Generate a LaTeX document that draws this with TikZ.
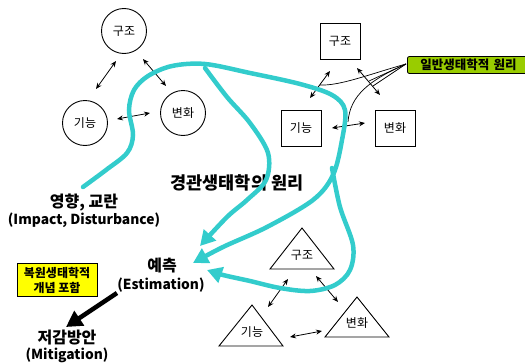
\documentclass[tikz,border=0pt]{standalone}
\usepackage{fontspec}
\setmainfont{Noto Sans CJK KR}
\usetikzlibrary{arrows.meta}
\definecolor{cy}{HTML}{33CCCC}
\definecolor{gr}{HTML}{99CC00}
\definecolor{yl}{HTML}{FFFF00}
\begin{document}
\begin{tikzpicture}[x=1pt,y=-1pt,
  circ/.style={circle,draw,line width=0.9pt,minimum size=45pt,inner sep=0pt,font=\fontsize{12}{14}\selectfont},
  sq/.style={rectangle,draw,line width=0.9pt,minimum width=40pt,minimum height=36pt,inner sep=0pt,font=\fontsize{12}{14}\selectfont},
  tritext/.style={inner sep=0pt,font=\fontsize{12}{14}\selectfont},
  trishape/.style={draw,line width=0.9pt,line join=miter},
  dbl/.style={{Stealth[length=6pt,width=5pt]}-{Stealth[length=6pt,width=5pt]},line width=0.8pt},
  bigk/.style={inner sep=0pt,font=\bfseries\fontsize{16}{18}\selectfont},
  bigl/.style={inner sep=0pt,font=\bfseries\fontsize{13.8}{16}\selectfont},
  cyl/.style={draw=cy,line width=4.5pt,line cap=round,-{Triangle[length=15pt,width=16pt]}},
  thin/.style={line width=0.7pt}]
\useasboundingbox (0,0) rectangle (525,364);
% circles
\node[circ] (c1) at (124,31) {구조};
\node[circ] (c2) at (85,123) {기능};
\node[circ] (c3) at (183,113) {변화};
\coordinate (c12a) at (116,61); \coordinate (c12b) at (96,89);
\coordinate (c13a) at (143,59); \coordinate (c13b) at (166,86);
\coordinate (c23a) at (117,119); \coordinate (c23b) at (150,113);
\draw[dbl] (c12a) -- (c12b);
\draw[dbl] (c13a) -- (c13b);
\draw[dbl] (c23a) -- (c23b);
% boxes
\node[sq] (s1) at (340,41) {구조};
\node[sq] (s2) at (301,128) {기능};
\node[sq] (s3) at (395,128) {변화};
\coordinate (s12a) at (330,71); \coordinate (s12b) at (310,98);
\coordinate (s13a) at (357,68); \coordinate (s13b) at (380,95);
\coordinate (s23a) at (332,128); \coordinate (s23b) at (365,123);
\draw[dbl] (s12a) -- (s12b);
\draw[dbl] (s13a) -- (s13b);
\draw[dbl] (s23a) -- (s23b);
% triangles
\coordinate (t1a) at (302,228); \coordinate (t1b) at (270,269); \coordinate (t1c) at (334,269);
\coordinate (t2a) at (252,305); \coordinate (t2b) at (219,346); \coordinate (t2c) at (283,346);
\coordinate (t3a) at (357,297); \coordinate (t3b) at (325,337); \coordinate (t3c) at (389,337);
\draw[trishape] (t1a) -- (t1b) -- (t1c) -- cycle;
\draw[trishape] (t2a) -- (t2b) -- (t2c) -- cycle;
\draw[trishape] (t3a) -- (t3b) -- (t3c) -- cycle;
\node[tritext] (tt1) at (302,255) {구조};
\node[tritext] (tt2) at (252,332) {기능};
\node[tritext] (tt3) at (357,323) {변화};
\coordinate (t12a) at (288,279); \coordinate (t12b) at (268,307);
\coordinate (t13a) at (316,276); \coordinate (t13b) at (338,302);
\coordinate (t23a) at (290,337); \coordinate (t23b) at (322,331);
\draw[dbl] (t12a) -- (t12b);
\draw[dbl] (t13a) -- (t13b);
\draw[dbl] (t23a) -- (t23b);
% texts
\node[bigk,font=\bfseries\fontsize{17.5}{19}\selectfont] (kg) at (237,183) {경관생태학의 원리};
\node[bigk] (im1) at (84,203) {영향, 교란};
\node[bigl] (im2) at (84,220) {(Impact, Disturbance)};
\node[bigk] (es1) at (162,266) {예측};
\node[bigl] (es2) at (161,285) {(Estimation)};
\node[bigk] (mi1) at (67,338) {저감방안};
\node[bigl] (mi2) at (67,355) {(Mitigation)};
\node[draw,fill=yl,line width=0.8pt,minimum width=80pt,minimum height=33pt,inner sep=0pt,align=center,
  font=\bfseries\fontsize{12}{15}\selectfont] (yb) at (57,280) {복원생태학적\\개념 포함};
\coordinate (ba) at (117,293); \coordinate (bb) at (66,327);
\draw[line width=4.5pt,-{Triangle[length=16pt,width=17pt]}] (ba) -- (bb);
% green label
\node[draw,fill=gr,line width=0.8pt,rounded corners=2pt,anchor=west,minimum width=130pt,minimum height=17pt,
  inner sep=0pt,text width=128pt,align=left,font=\bfseries\fontsize{12.5}{14}\selectfont] (gl) at (407,65) {\hspace*{12pt}일반생태학적 원리};
\coordinate (g0) at (406,64);
\coordinate (g1) at (320,85); \coordinate (g2) at (369,81); \coordinate (g3) at (373,86); \coordinate (g4) at (348,122);
\draw[thin] (g0) .. controls (370,74) and (340,86) .. (g1);
\draw[thin] (g0) -- (g2);
\draw[thin] (g0) -- (g3);
\draw[thin] (g0) .. controls (370,80) and (350,95) .. (g4);
% cyan curves
\coordinate (a1) at (193,263); \coordinate (a2) at (200,246); \coordinate (a3) at (207,270);
\draw[cyl] plot[smooth,tension=0.55] coordinates {(83,187) (106,170) (127,153) (133,135) (129,110) (134,90) (148,76) (172,66) (205,64) (250,73) (300,84) (332,95) (345,110) (342,140) (333,175) (313,200) (267,227) (223,247) (a1)};
\draw[cyl] plot[smooth,tension=0.55] coordinates {(205,68) (227,97) (250,123) (268,153) (266,180) (247,200) (227,217) (a2)};
\draw[cyl] plot[smooth,tension=0.55] coordinates {(332,168) (340,207) (353,245) (350,270) (335,285) (310,291) (280,288) (250,281) (223,275) (a3)};
\end{tikzpicture}
\end{document}
